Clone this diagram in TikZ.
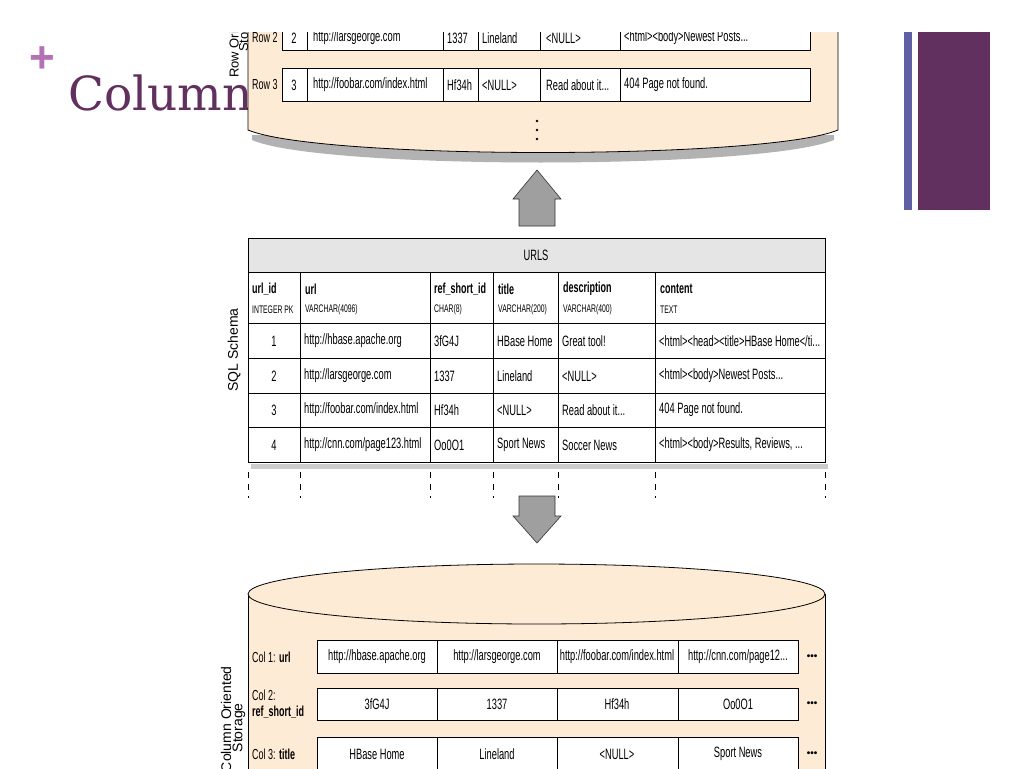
\documentclass[tikz,border=0pt]{standalone}
\usepackage{fontspec}
\setmainfont{Liberation Sans}
\newfontfamily\narrow[FakeStretch=0.62]{Liberation Sans}
\newfontfamily\slab{DejaVu Serif}
\newcommand\sqlrow[7]{%
   \node[cell] at (274,#1) {#2};
   \node[cell,anchor=west] at (303,#1) {#3};
   \node[cell,anchor=west] at (433,#1) {#4};
   \node[cell,anchor=west] at (496,#1) {#5};
   \node[cell,anchor=west] at (561,#1) {#6};
   \node[cell,anchor=west] at (658,#1) {#7};}
\newcommand\colrow[5]{%
   \node[cell] at (377,#1) {#2};
   \node[cell] at (497,#1) {#3};
   \node[cell] at (617,#1) {#4};
   \node[cell] at (738,#1) {#5};}
\begin{document}
\begin{tikzpicture}[x=1pt,y=-1pt,
  peach/.style={fill=peachc,draw=black,line width=0.8pt},
  cell/.style={font=\narrow\fontsize{15}{16}\selectfont,anchor=center,inner sep=1pt},
  lbl/.style={font=\narrow\fontsize{14.5}{16}\selectfont,anchor=west,align=left,inner sep=1pt},
  bx/.style={draw=black,fill=white,line width=0.8pt},
  garrow/.style={fill=gray!75,draw=gray!40!black,line width=0.6pt}]
\definecolor{peachc}{HTML}{FDEBD5}
\definecolor{titlec}{HTML}{62305E}
\definecolor{plusc}{HTML}{B471B4}
\definecolor{barblue}{HTML}{5E5FA4}
\useasboundingbox (0,0) rectangle (1024,768);
\clip (0,0) rectangle (1024,768);
% slide decoration
\fill[barblue] (904,32) rectangle (912,210);
\fill[titlec] (918,32) rectangle (990,210);
\node[text=plusc,font=\bfseries\fontsize{44}{44}\selectfont] (plus) at (42,60) {+};
\node[text=titlec,font=\slab\fontsize{47}{47}\selectfont,anchor=base west,inner sep=0pt] (title) at (68,110) {Column};
% top cylinder
\begin{scope}
\clip (0,33) rectangle (1024,768);
\fill[black!30] (252,135) -- (252,140) .. controls (320,170) and (760,170) .. (834,140) -- (834,135) -- cycle;
\path[peach] (248,20) -- (248,130) .. controls (320,160) and (766,160) .. (838,130) -- (838,20);
\draw[bx] (282,20) rectangle (810,50);
\foreach \x in {307,443,478,540,620} \draw[line width=0.6pt] (\x,20) -- (\x,50);
\node[cell] (r2a) at (294,38) {2};
\node[cell,anchor=west] (r2b) at (312,38) {http://larsgeorge.com};
\node[cell,anchor=west] (r2c) at (446,38) {1337};
\node[cell,anchor=west] (r2d) at (481,38) {Lineland};
\node[cell,anchor=west] (r2e) at (545,38) {<NULL>};
\node[cell,anchor=west] (r2f) at (623,38) {<html><body>Newest Posts...};
\node[lbl] (row2) at (251,38) {Row 2};
\node[rotate=90,font=\fontsize{13}{13}\selectfont,anchor=west,inner sep=0pt] (rowst) at (234,78) {Row Oriented};
\node[rotate=90,font=\fontsize{13}{13}\selectfont,anchor=west,inner sep=0pt] (rowst2) at (245,52) {Storage};
\end{scope}
\draw[bx] (282,68) rectangle (810,101);
\foreach \x in {307,443,478,540,620} \draw[line width=0.6pt] (\x,68) -- (\x,101);
\node[lbl] (row3) at (251,85) {Row 3};
\node[cell] (r3a) at (294,85) {3};
\node[cell,anchor=west] (r3b) at (312,85) {http://foobar.com/index.html};
\node[cell,anchor=west] (r3c) at (446,85) {Hf34h};
\node[cell,anchor=west] (r3d) at (481,85) {<NULL>};
\node[cell,anchor=west] (r3e) at (545,85) {Read about it...};
\node[cell,anchor=west] (r3f) at (623,85) {404 Page not found.};
\foreach \y in {121,130,139} \fill (537,\y) circle (1.4);
% up arrow
\draw[garrow] (537,170) -- (561,199) -- (555,199) -- (555,226) -- (519,226) -- (519,199) -- (513,199) -- cycle;
% table
\fill[black!20] (251,464) rectangle (828,469);
\draw[fill=gray!20,line width=0.8pt] (248,238) rectangle (825,272);
\node[cell] (urls) at (536,255) {URLS};
\draw[fill=white,line width=0.8pt] (248,272) rectangle (825,462);
\foreach \y in {323,358,393,427} \draw[line width=0.6pt] (248,\y) -- (825,\y);
\foreach \x in {300,430,493,558,655} \draw[line width=0.6pt] (\x,272) -- (\x,462);
\foreach \x/\n/\t in {251/url\_id/INTEGER PK,304/url/VARCHAR(4096),433/ref\_short\_id/CHAR(8),497/title/VARCHAR(200),562/description/VARCHAR(400),659/content/TEXT}
  {\node[lbl,font=\narrow\bfseries\fontsize{14.5}{16}\selectfont] at (\x,289) {\n};
   \node[lbl,font=\narrow\fontsize{11}{12}\selectfont] at (\x,310) {\t};}
\sqlrow{341}{1}{http://hbase.apache.org}{3fG4J}{HBase Home}{Great tool!}{<html><head><title>HBase Home</ti...}
\sqlrow{376}{2}{http://larsgeorge.com}{1337}{Lineland}{<NULL>}{<html><body>Newest Posts...}
\sqlrow{410}{3}{http://foobar.com/index.html}{Hf34h}{<NULL>}{Read about it...}{404 Page not found.}
\sqlrow{445}{4}{http://cnn.com/page123.html}{Oo0O1}{Sport News}{Soccer News}{<html><body>Results, Reviews, ...}
\node[rotate=90,font=\fontsize{14}{14}\selectfont] (sql) at (234,350) {SQL Schema};
\foreach \x in {248,300,430,493,558,655,825} \draw[dash pattern=on 6pt off 6pt,line width=0.5pt] (\x,472) -- (\x,498);
% down arrow
\draw[garrow] (537,543) -- (561,516) -- (555,516) -- (555,496) -- (519,496) -- (519,516) -- (513,516) -- cycle;
% bottom cylinder
\path[peach] (248,594) -- (248,780) -- (825,780) -- (825,594);
\draw[peach] (536.5,594) ellipse (288.5 and 30);
\draw[bx] (317,640) rectangle (798,673);
\draw[bx] (317,688) rectangle (798,720);
\draw[bx] (317,737) rectangle (798,780);
\foreach \x in {437,557,678} \draw[line width=0.6pt] (\x,640) -- (\x,673) (\x,688) -- (\x,720) (\x,737) -- (\x,780);
\colrow{657}{http://hbase.apache.org}{http://larsgeorge.com}{http://foobar.com/index.html}{http://cnn.com/page12...}
\colrow{704}{3fG4J}{1337}{Hf34h}{Oo0O1}
\colrow{754}{HBase Home}{Lineland}{<NULL>}{Sport News}
\foreach \y in {657,704,754} \node[font=\bfseries\fontsize{10}{10}\selectfont] at (812,\y) {\textbullet\textbullet\textbullet};
\node[lbl] (c1) at (251,657) {Col 1: \textbf{url}};
\node[lbl] (c2) at (251,704) {Col 2:\\\textbf{ref\_short\_id}};
\node[lbl] (c3) at (251,754) {Col 3: \textbf{title}};
\node[rotate=90,font=\fontsize{14}{14}\selectfont,anchor=east,inner sep=0pt] (cst) at (226,666) {Column Oriented};
\node[rotate=90,font=\fontsize{14}{14}\selectfont,anchor=east,inner sep=0pt] (cst2) at (239,703) {Storage};
\end{tikzpicture}
\end{document}
